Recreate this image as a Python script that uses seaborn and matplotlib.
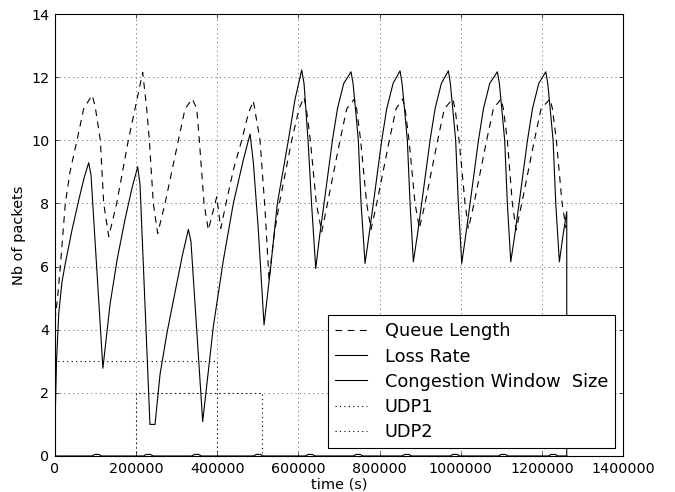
import matplotlib
matplotlib.use("Agg")
import matplotlib.pyplot as plt
import seaborn as sns
import pandas as pd

# ---------------- data ----------------
queue_t = [0, 6200, 13100, 25400, 37000, 54200, 70700, 91200, 98600, 111700, 120000, 132400,
           152000, 180700, 197200, 216100, 226000, 232500, 242300, 253100,
           271200, 304000, 320500, 338500, 349300, 355700, 367300, 377900,
           398600, 408500, 423200, 439500, 460200, 476500, 488800, 505300, 517700, 527500,
           540000, 553000, 583400, 601500, 613800, 619500, 629300, 644100, 657400,
           671500, 702500, 719000, 737800, 743400, 753300, 768100, 778900,
           793000, 824000, 840600, 857100, 862800, 872600, 887400, 898000,
           912100, 943100, 959600, 980300, 986000, 995900, 1010700, 1018800,
           1032800, 1063900, 1080400, 1099400, 1105100, 1114900, 1127200, 1136400,
           1150400, 1181500, 1198000, 1220200, 1225900, 1235700, 1249800, 1259600]
queue_v = [4.3, 5.0, 6.0, 8.0, 9.0, 10.0, 11.0, 11.43, 11.1, 10.0, 8.0, 6.95,
           8.0, 10.0, 11.0, 12.15, 11.0, 10.0, 8.0, 7.05,
           8.0, 10.0, 11.0, 11.31, 11.0, 10.0, 8.0, 7.16,
           8.21, 7.21, 8.1, 9.06, 10.0, 10.85, 11.25, 10.0, 7.8, 5.57,
           7.0, 8.0, 10.0, 11.0, 11.36, 11.0, 10.0, 8.0, 7.1,
           8.0, 10.0, 11.0, 11.31, 11.0, 10.0, 8.0, 7.18,
           8.0, 10.0, 11.0, 11.31, 11.0, 10.0, 8.0, 7.21,
           8.0, 10.0, 11.0, 11.31, 11.0, 10.0, 8.0, 7.2,
           8.0, 10.0, 11.0, 11.31, 11.0, 10.0, 8.0, 7.16,
           8.0, 10.0, 11.0, 11.31, 11.0, 10.0, 8.0, 7.21]

loss_t = [0, 91000, 98000, 108000, 115000, 218000, 225000, 235000, 242000,
          337000, 344000, 354000, 361000, 489000, 496000, 506000, 513000,
          617000, 624000, 634000, 641000, 735000, 742000, 752000, 759000,
          855000, 862000, 872000, 879000, 974000, 981000, 991000, 998000,
          1093000, 1100000, 1110000, 1117000, 1216000, 1223000, 1233000, 1240000, 1261300]
loss_v = [0, 0, 0.05, 0.05, 0, 0, 0.05, 0.05, 0,
          0, 0.05, 0.05, 0, 0, 0.05, 0.05, 0,
          0, 0.05, 0.05, 0, 0, 0.05, 0.05, 0,
          0, 0.05, 0.05, 0, 0, 0.05, 0.05, 0,
          0, 0.05, 0.05, 0, 0, 0.05, 0.05, 0, 0]

cwnd_t = [0, 3700, 9100, 17000, 25400, 41900, 58400, 71500, 83000, 88700, 118000,
          135600, 152800, 172600, 190000, 203800, 209500, 234000, 246500,
          259000, 276000, 296000, 313000, 328700, 335000, 364000,
          390200, 414900, 439500, 464200, 480700, 488800, 500400, 515200,
          531700, 548000, 575100, 591600, 608000, 613800, 623600, 632300, 642600,
          652500, 663100, 683800, 696100, 711600, 729600, 734600, 742000, 747600, 754300, 764200,
          774000, 784600, 805300, 817600, 833200, 850400, 855400, 862800, 868400, 875100, 883200,
          893100, 903700, 924400, 936700, 952200, 969500, 974400, 981800, 987500, 994100, 1002500,
          1012400, 1023000, 1043700, 1056000, 1071500, 1090300, 1095200, 1102600, 1108300, 1114900, 1123300,
          1133200, 1143800, 1164500, 1176800, 1192300, 1209600, 1214500, 1221900, 1227600, 1234200, 1243100,
          1252200, 1261300, 1261300]
cwnd_v = [1.0, 3.0, 4.5, 5.5, 6.1, 7.16, 8.1, 8.8, 9.29, 8.9, 2.78,
          4.8, 6.2, 7.5, 8.5, 9.16, 8.6, 1.0, 1.0,
          2.6, 3.9, 5.2, 6.3, 7.18, 6.8, 1.09,
          4.1, 6.2, 8.0, 9.38, 10.2, 9.3, 7.3, 4.15,
          6.0, 8.0, 10.0, 11.3, 12.23, 11.8, 10.0, 8.0, 5.94,
          7.0, 8.0, 10.0, 11.0, 11.8, 12.17, 11.8, 10.8, 10.0, 8.0, 6.1,
          7.0, 8.0, 10.0, 11.0, 11.8, 12.2, 11.8, 10.8, 10.0, 8.0, 6.15,
          7.0, 8.0, 10.0, 11.0, 11.8, 12.2, 11.8, 10.8, 10.0, 8.0, 6.1,
          7.0, 8.0, 10.0, 11.0, 11.8, 12.17, 11.8, 10.8, 10.0, 8.0, 6.15,
          7.0, 8.0, 10.0, 11.0, 11.8, 12.17, 11.8, 10.8, 10.0, 8.0, 6.15,
          7.0, 7.74, 0.0]

udp1_t = [0, 0, 400000, 400000, 1261300]
udp1_v = [0, 3, 3, 0, 0]
udp2_t = [0, 200000, 200000, 510000, 510000, 1261300]
udp2_v = [0, 0, 2, 2, 0, 0]

labels = ["Queue Length", "Loss Rate", "Congestion Window  Size", "UDP1", "UDP2"]
x_ticks = [0, 200000, 400000, 600000, 800000, 1000000, 1200000, 1400000]
y_ticks = [0, 2, 4, 6, 8, 10, 12, 14]

# ---------------- figure ----------------
plt.rcParams["lines.scale_dashes"] = False
plt.rcParams["font.family"] = ["DejaVu Sans"]

fig = plt.figure(figsize=(675 / 80, 492 / 80), dpi=80)
ax = fig.add_axes([0.0815, 0.0732, 0.8415, 0.8983])

series = [
    (queue_t, queue_v, labels[0], (0, (6, 5))),
    (loss_t, loss_v, labels[1], "-"),
    (cwnd_t, cwnd_v, labels[2], "-"),
    (udp1_t, udp1_v, labels[3], (0, (1, 3))),
    (udp2_t, udp2_v, labels[4], (0, (1, 3))),
]
for t, v, lab, ls in series:
    df = pd.DataFrame({"time": t, "value": v})
    sns.lineplot(data=df, x="time", y="value", ax=ax, sort=False, estimator=None,
                 color="black", linewidth=1.0, linestyle=ls, label=lab)

ax.set_xlim(0, 1400000)
ax.set_ylim(0, 14)
ax.set_xticks(x_ticks)
ax.set_yticks(y_ticks)
ax.set_xticklabels([str(x) for x in x_ticks])
ax.set_yticklabels([str(y) for y in y_ticks])
ax.set_xlabel("time (s)", fontsize=13, labelpad=2)
ax.set_ylabel("Nb of packets", fontsize=13, labelpad=5)
ax.tick_params(direction="in", top=True, right=True, length=4, width=0.6,
               labelsize=12.8, pad=5, colors="black")
for s in ax.spines.values():
    s.set_linewidth(1.0)
    s.set_color("black")
ax.grid(True, color="black", linestyle=(0, (1, 3)), linewidth=0.5)
ax.set_axisbelow(False)

leg = ax.legend(loc="lower right", fontsize=16, frameon=True, fancybox=False,
                framealpha=1, edgecolor="black", borderaxespad=0.45,
                handlelength=1.8, handletextpad=1.0, borderpad=0.4,
                labelspacing=0.4)
leg.get_frame().set_linewidth(1.0)

fig.savefig("out.png", dpi=80)
